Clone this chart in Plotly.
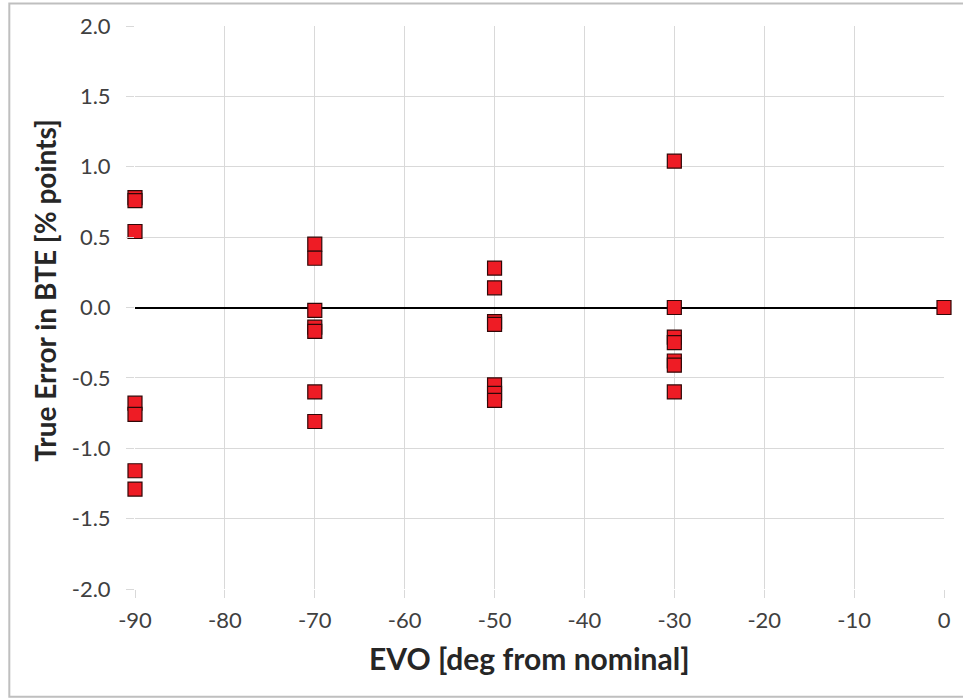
import plotly.graph_objects as go

# Data
evo_groups = [-90, -70, -50, -30, 0]
errors_m90 = [0.78, 0.76, 0.54, -0.68, -0.76, -1.16, -1.29]
errors_m70 = [0.45, 0.35, -0.02, -0.14, -0.17, -0.60, -0.81]
errors_m50 = [0.28, 0.14, -0.10, -0.12, -0.55, -0.61, -0.66]
errors_m30 = [1.04, 0.00, -0.21, -0.25, -0.38, -0.41, -0.60]
errors_0 = [0.0]

x_tick_vals = [-90, -80, -70, -60, -50, -40, -30, -20, -10, 0]
x_tick_text = ["-90", "-80", "-70", "-60", "-50", "-40", "-30", "-20", "-10", "0"]
y_tick_vals = [-2.0, -1.5, -1.0, -0.5, 0.0, 0.5, 1.0, 1.5, 2.0]
y_tick_text = ["-2.0", "-1.5", "-1.0", "-0.5", "0.0", "0.5", "1.0", "1.5", "2.0"]
x_title = "EVO [deg from nominal]"
y_title = "True Error in BTE [% points]"

xs, ys = [], []
for gx, vals in zip(evo_groups, [errors_m90, errors_m70, errors_m50, errors_m30, errors_0]):
    xs += [gx] * len(vals)
    ys += vals

fig = go.Figure()
fig.add_trace(go.Scatter(
    x=xs, y=ys, mode="markers",
    marker=dict(symbol="square", size=14, color="#EE1C25",
                line=dict(color="#300808", width=1.2)),
    cliponaxis=False, showlegend=False,
))

grid = "#d9d9d9"
fam = "Lato, Open Sans, sans-serif"
tickfont = dict(family=fam, size=22, color="#404040")

# plot area in pixels: x 135..946, y 25..589
L, R, T, B = 135, 946, 25, 589
W, H = R - L, B - T

fig.update_layout(
    width=963, height=699,
    margin=dict(l=L, r=963 - R, t=T, b=699 - B),
    paper_bgcolor="white", plot_bgcolor="white",
    xaxis=dict(
        range=[-90, 0], tickvals=x_tick_vals, ticktext=x_tick_text,
        showgrid=True, gridcolor=grid, gridwidth=1,
        ticks="outside", ticklen=8, tickcolor=grid, tickwidth=1,
        showline=False, zeroline=False, tickfont=tickfont,
        ticklabelstandoff=4,
    ),
    yaxis=dict(
        range=[-2, 2], tickvals=y_tick_vals, ticktext=y_tick_text,
        showgrid=True, gridcolor=grid, gridwidth=1,
        ticks="outside", ticklen=8, tickcolor=grid, tickwidth=1,
        showline=False, zeroline=True, zerolinecolor="black", zerolinewidth=2,
        tickfont=tickfont, ticklabelstandoff=11,
    ),
    annotations=[
        dict(text=x_title, xref="paper", yref="paper",
             x=(530 - L) / W, y=-(658 - B) / H, xanchor="center", yanchor="middle",
             showarrow=False,
             font=dict(family=fam, size=30, color="#262626", weight="bold")),
        dict(text=y_title, xref="paper", yref="paper", textangle=-90,
             x=(44 - L) / W, y=1 - (290 - T) / H, xanchor="center", yanchor="middle",
             showarrow=False,
             font=dict(family=fam, size=28, color="#262626", weight="bold")),
    ],
    shapes=[
        dict(type="rect", xref="paper", yref="paper",
             x0=(9 - L) / W, x1=(975 - L) / W,
             y0=-(697 - B) / H, y1=1 + (T - 2.5) / H,
             line=dict(color="#bfbfbf", width=2), layer="below"),
    ],
)

fig.write_html("out.html")
